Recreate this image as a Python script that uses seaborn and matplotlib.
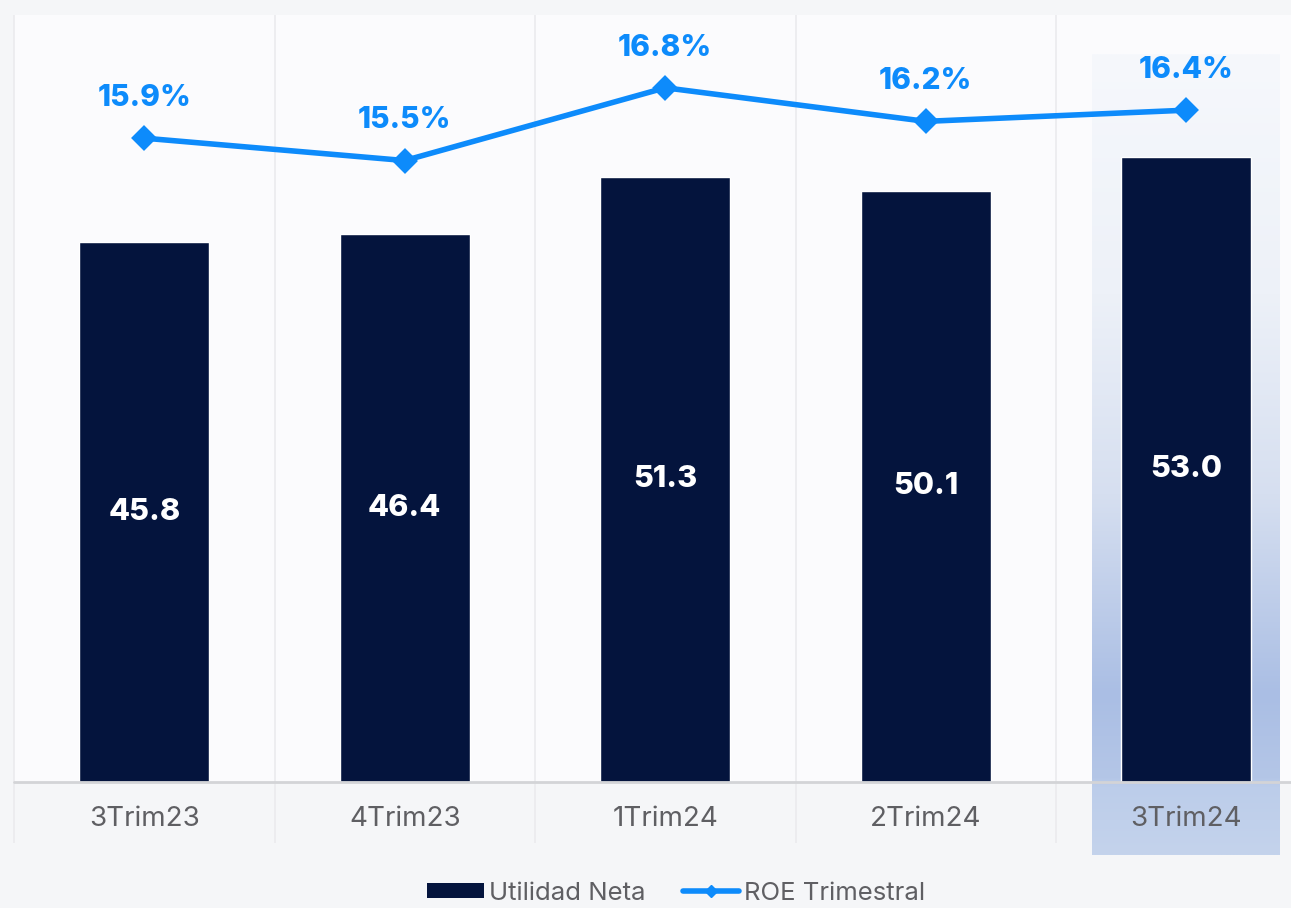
import numpy as np
import pandas as pd
import matplotlib
matplotlib.use("Agg")
import matplotlib.pyplot as plt
from matplotlib.colors import to_rgb
from matplotlib.patches import Patch
from matplotlib.lines import Line2D
import seaborn as sns

# Quarterly figures
quarters = ["3Trim23", "4Trim23", "1Trim24", "2Trim24", "3Trim24"]
utilidad_neta = [45.8, 46.4, 51.3, 50.1, 53.0]
roe_trimestral = [15.9, 15.5, 16.8, 16.2, 16.4]

NAVY = "#04143d"
BLUE = "#0d8bfb"
GREY_TXT = "#5f5f63"

sns.set_theme(style="white")
plt.rcParams["font.family"] = ["Inter", "DejaVu Sans"]

df = pd.DataFrame({"trim": quarters, "util": utilidad_neta, "roe": roe_trimestral})

fig = plt.figure(figsize=(12.91, 9.08), dpi=100)
fig.patch.set_facecolor("#f5f6f8")
ax = fig.add_axes([14 / 1291, 1 - 782 / 908, 1 - 14 / 1291, (782 - 15) / 908])
ax.set_facecolor("#fbfbfd")

sns.barplot(data=df, x="trim", y="util", color=NAVY, width=0.5, saturation=1,
            ax=ax, zorder=3)
for c in ax.containers:
    ax.bar_label(c, labels=[f"{v:.1f}" for v in c.datavalues], label_type="center",
                 color="white", fontsize=22, fontweight="heavy")

x_lo, x_hi = -0.5, -0.5 + (1291 - 14) / 260.5
y_lo, y_hi = 0, 65

# highlight column behind the latest quarter
stops = [(0.00, "#f6f8fc"), (0.30, "#edf1f8"), (0.55, "#d6dff0"),
         (0.80, "#aabee4"), (0.905, "#b4c6e7"), (0.915, "#bccdea"), (1.00, "#c4d3ec")]
n_rows = 400
pos = np.linspace(0, 1, n_rows)
sp = [s[0] for s in stops]
cols = np.array([to_rgb(s[1]) for s in stops])
grad = np.stack([np.interp(pos, sp, cols[:, k]) for k in range(3)], axis=1)
grad = grad[:, None, :]
last = len(quarters) - 1
ax.imshow(grad, extent=[last - 0.36, last + 0.36, -6.2, 61.6], aspect="auto",
          origin="upper", zorder=0.5, clip_on=False, interpolation="bilinear")

# column separators and baseline
seps = np.arange(len(quarters)) - 0.5
ax.vlines(seps, -5.2, y_hi, colors="#ececef", linewidth=1.3, zorder=0.4, clip_on=False)
ax.axhline(0, color="#d3d4d7", linewidth=2, zorder=4, clip_on=False)

ax.set_xlim(x_lo, x_hi)
ax.set_ylim(y_lo, y_hi)
ax.set_xlabel("")
ax.set_ylabel("")
ax.set_yticks([])
ax.tick_params(axis="x", length=0, pad=17, labelsize=20, labelcolor=GREY_TXT)
for s in ax.spines.values():
    s.set_visible(False)

# ROE line on secondary axis
ax2 = ax.twinx()
sns.pointplot(data=df, x="trim", y="roe", color=BLUE, markers="D", markersize=10,
              linewidth=4, ax=ax2, zorder=5)
ax2.set_xlim(x_lo, x_hi)
ax2.set_ylim(4.4, 18.1)
ax2.set_yticks([])
ax2.set_ylabel("")
ax2.set_xlabel("")
for s in ax2.spines.values():
    s.set_visible(False)
for i, v in enumerate(roe_trimestral):
    ax2.annotate(f"{v:.1f}%", (i, v), xytext=(0, 29), textcoords="offset points",
                 ha="center", va="center", color=BLUE, fontsize=21.5, fontweight="heavy")

handles = [Patch(facecolor=NAVY, edgecolor="none"),
           Line2D([0], [0], color=BLUE, linewidth=4, marker="D", markersize=6)]
fig.legend(handles, ["Utilidad Neta", "ROE Trimestral"], loc="center",
           bbox_to_anchor=(0.524, 1 - 893 / 908), ncol=2, frameon=False,
           fontsize=18.5, labelcolor=GREY_TXT, handlelength=2.2, handleheight=0.5,
           handletextpad=0.2, columnspacing=1.45, borderpad=0.2)

fig.savefig("out.png", dpi=100, facecolor=fig.get_facecolor())
